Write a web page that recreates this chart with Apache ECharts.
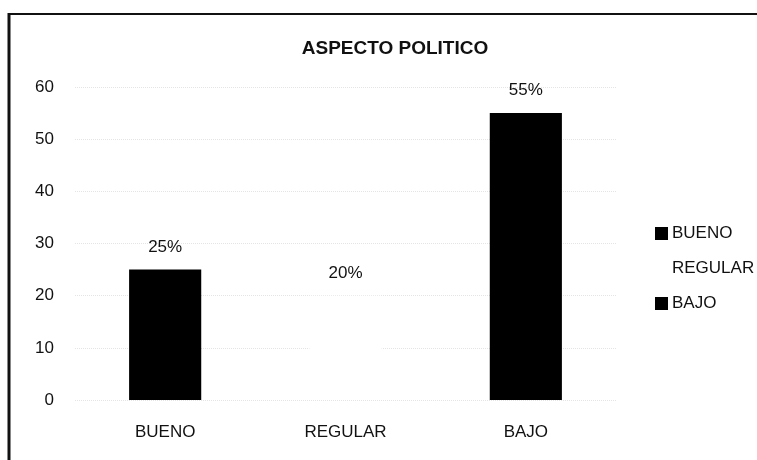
<!DOCTYPE html>
<html>
<head>
<meta charset="utf-8">
<script src="https://cdn.jsdelivr.net/npm/echarts@6/dist/echarts.min.js"></script>
<style>
html,body{margin:0;padding:0;background:#fff;}
#chart{width:757px;height:460px;}
</style>
</head>
<body>
<div id="chart"></div>
<script>
const titleText = 'ASPECTO POLITICO';
const categories = ['BUENO', 'REGULAR', 'BAJO'];
const values = [25, 20, 55];
const seriesColors = ['#000000', '#ffffff', '#000000'];
const yTicks = [0, 10, 20, 30, 40, 50, 60];

const FONT = '"Liberation Sans", Arial, sans-serif';
const chart = echarts.init(document.getElementById('chart'), null, {renderer: 'canvas'});

const series = categories.map((name, i) => ({
  name: name,
  type: 'bar',
  stack: 'all',
  barWidth: '40%',
  itemStyle: {color: seriesColors[i]},
  label: {
    show: true,
    position: 'top',
    distance: 14,
    formatter: p => p.value + '%',
    color: '#111',
    fontFamily: FONT,
    fontSize: 17
  },
  data: categories.map((c, j) => (j === i ? values[i] : '-'))
}));

chart.setOption({
  animation: false,
  backgroundColor: '#ffffff',
  title: {
    text: titleText,
    left: 390,
    textAlign: 'center',
    top: 34,
    textStyle: {fontFamily: FONT, fontSize: 19, fontWeight: 'bold', color: '#111'}
  },
  legend: {
    data: categories,
    orient: 'vertical',
    left: 650,
    top: 220,
    itemGap: 18,
    itemWidth: 13,
    itemHeight: 13,
    icon: 'rect',
    textStyle: {fontFamily: FONT, fontSize: 17, color: '#111', padding: [0, 0, 0, -1]}
  },
  grid: {left: 75, right: 141, top: 87, bottom: 60, containLabel: false},
  xAxis: {
    type: 'category',
    data: categories,
    axisLine: {show: false},
    axisTick: {show: false},
    axisLabel: {margin: 24, fontFamily: FONT, fontSize: 17, color: '#111'}
  },
  yAxis: {
    type: 'value',
    min: yTicks[0],
    max: yTicks[yTicks.length - 1],
    interval: 10,
    axisLine: {show: false},
    axisTick: {show: false},
    axisLabel: {margin: 21, fontFamily: FONT, fontSize: 17, color: '#111'},
    splitLine: {show: true, lineStyle: {type: 'dotted', color: '#e4e4e4', width: 1}}
  },
  graphic: [
    {type: 'line', shape: {x1: 9, y1: 13, x2: 9, y2: 460}, style: {stroke: '#111', lineWidth: 3}},
    {type: 'line', shape: {x1: 8, y1: 14, x2: 757, y2: 14}, style: {stroke: '#111', lineWidth: 2}}
  ],
  series: series
});
</script>
</body>
</html>
